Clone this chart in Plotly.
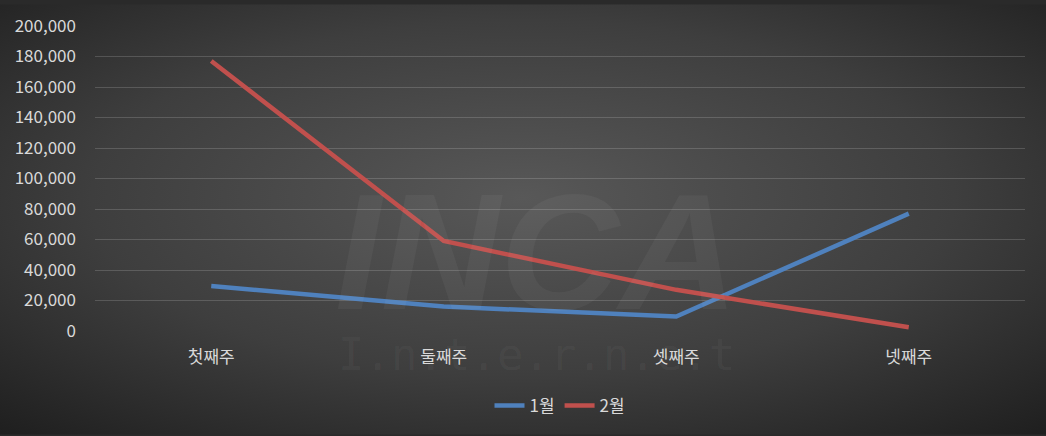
import plotly.graph_objects as go
import base64

categories = ["첫째주", "둘째주", "셋째주", "넷째주"]
jan = [29500, 16000, 9500, 77000]
feb = [177000, 59000, 27000, 2500]
y_ticks = list(range(0, 200001, 20000))
y_tick_labels = [f"{v:,}" for v in y_ticks]

W, H = 1046, 436
L, R, T, B = 95, 21, 22, 105
pw, ph = W - L - R, H - T - B

svg = f'''<svg xmlns="http://www.w3.org/2000/svg" width="{W}" height="{H}" preserveAspectRatio="none">
<defs><radialGradient id="g" cx="0.5" cy="0.45" r="0.75">
<stop offset="0" stop-color="#585858"/>
<stop offset="0.55" stop-color="#3e3e3e"/>
<stop offset="1" stop-color="#1e1e1e"/>
</radialGradient></defs>
<rect width="{W}" height="{H}" fill="url(#g)"/></svg>'''
src = "data:image/svg+xml;base64," + base64.b64encode(svg.encode()).decode()

font = "Noto Sans CJK KR, Malgun Gothic, sans-serif"
fig = go.Figure()
fig.add_trace(go.Scatter(x=categories, y=jan, name="1월", mode="lines",
                         line=dict(color="#4F81BD", width=4.5)))
fig.add_trace(go.Scatter(x=categories, y=feb, name="2월", mode="lines",
                         line=dict(color="#C0504D", width=4.5)))

fig.add_layout_image(dict(source=src, xref="paper", yref="paper",
                          x=-L / pw, y=1 + T / ph, sizex=W / pw, sizey=H / ph,
                          sizing="stretch", xanchor="left", yanchor="top", layer="below"))

fig.add_annotation(text="<b><i>INCA</i></b>", xref="paper", yref="paper",
                   x=0.475, y=0.26, yanchor="middle", showarrow=False,
                   font=dict(family="Liberation Sans, Arial", size=165, color="rgba(255,255,255,0.045)"))
fig.add_annotation(text="I.n.t.e.r.n.e.t", xref="paper", yref="paper",
                   x=0.475, y=-0.078, yanchor="middle", showarrow=False,
                   font=dict(family="DejaVu Sans Mono, monospace", size=44, color="rgba(255,255,255,0.045)"))

fig.update_layout(
    width=W, height=H,
    margin=dict(l=L, r=R, t=T, b=B),
    paper_bgcolor="#2a2a2a",
    plot_bgcolor="rgba(0,0,0,0)",
    font=dict(family=font, size=17, color="#d9d9d9"),
    showlegend=True,
    legend=dict(orientation="h", x=0.5, xanchor="center", y=-0.246, yanchor="middle",
                font=dict(size=17, color="#d9d9d9"),
                bgcolor="rgba(0,0,0,0)"),
    xaxis=dict(range=[-0.5, 3.5], showgrid=False, zeroline=False, showline=False,
               ticks="", ticklabelstandoff=14, tickfont=dict(size=17, color="#d9d9d9")),
    yaxis=dict(range=[0, 200000], tickvals=y_ticks, ticktext=y_tick_labels,
               showgrid=True, gridcolor="rgba(255,255,255,0.16)", gridwidth=1.3, zeroline=False,
               showline=False, ticks="", ticklabelstandoff=18,
               tickfont=dict(size=17, color="#d9d9d9")),
)
fig.write_html("out.html", config={"displayModeBar": False},
               post_script="document.body.style.margin='0';document.body.style.overflow='hidden';")
